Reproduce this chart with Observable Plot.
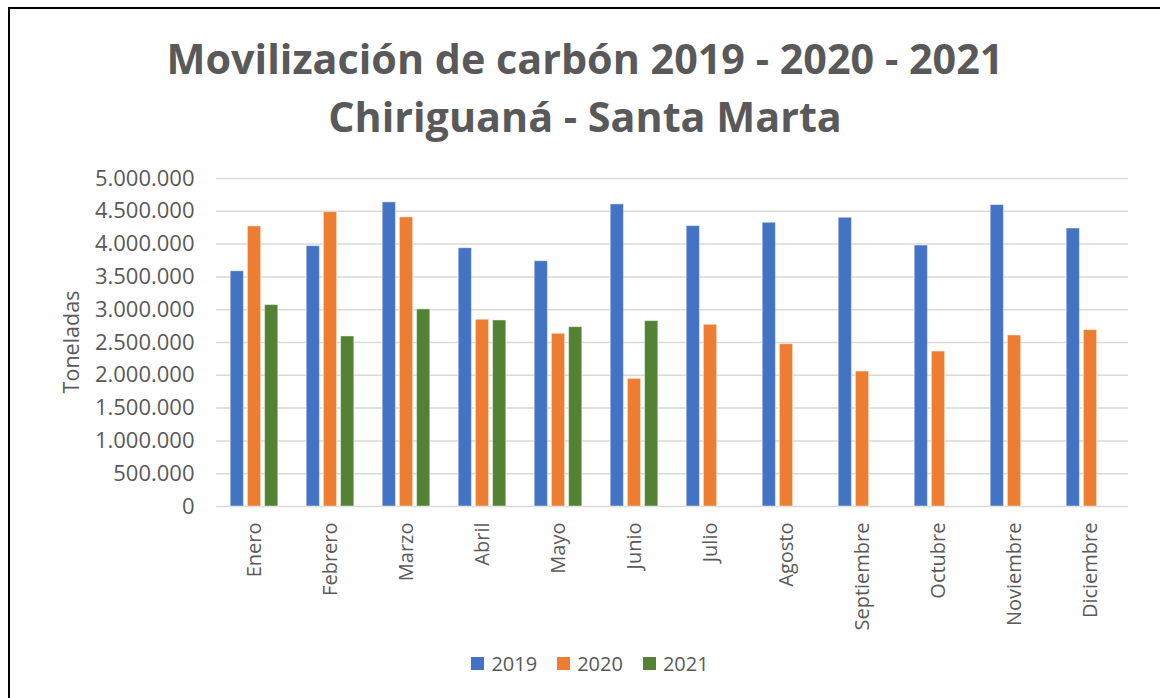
<!DOCTYPE html>
<html>
<head>
<meta charset="utf-8">
<script src="https://cdn.jsdelivr.net/npm/d3@7"></script>
<script src="https://cdn.jsdelivr.net/npm/@observablehq/plot@0.6"></script>
<style>
  html, body { margin:0; padding:0; background:#fff; overflow:hidden; width:1160px; height:698px; }
  #frame { position:absolute; left:8px; top:7px; width:1200px; height:800px; border:2px solid #000; box-sizing:border-box; }
  #title { position:absolute; left:0; top:29px; width:1170px; text-align:center; font-family:"Open Sans", sans-serif; font-weight:700; font-size:41.3px; line-height:58px; color:#595959; }
  #chart { position:absolute; left:0; top:0; }
  #ylabel { position:absolute; left:70px; top:342px; transform:translate(-50%,-50%) rotate(-90deg); font-family:"Open Sans", sans-serif; font-size:21.5px; color:#595959; white-space:nowrap; }
  #legend { position:absolute; left:0; top:649px; width:1180px; text-align:center; font-family:"Open Sans", sans-serif; font-size:20px; color:#595959; }
  #legend span.item { display:inline-flex; align-items:center; margin:0 10px; }
  #legend span.sw { display:inline-block; width:13px; height:13px; margin-right:7px; }
</style>
</head>
<body>
<div id="frame"></div>
<div id="title">Movilización de carbón 2019 - 2020 - 2021<br>Chiriguaná - Santa Marta</div>
<div id="chart"></div>
<div id="ylabel">Toneladas</div>
<div id="legend"></div>
<script>
const months = ["Enero","Febrero","Marzo","Abril","Mayo","Junio","Julio","Agosto","Septiembre","Octubre","Noviembre","Diciembre"];
const years = ["2019","2020","2021"];
const v2019 = [3586000, 3968000, 4636000, 3937000, 3739000, 4605000, 4274000, 4325000, 4401000, 3978000, 4595000, 4238000];
const v2020 = [4269000, 4488000, 4407000, 2847000, 2633000, 1945000, 2770000, 2474000, 2057000, 2362000, 2607000, 2689000];
const v2021 = [3071000, 2592000, 3005000, 2836000, 2734000, 2826000];
const yTicks = [0, 500000, 1000000, 1500000, 2000000, 2500000, 3000000, 3500000, 4000000, 4500000, 5000000];
const colors = ["#4472C4", "#ED7D31", "#548235"];

const series = [v2019, v2020, v2021];
const rows = [];
series.forEach((vals, i) => vals.forEach((v, j) => rows.push({month: months[j], year: years[i], value: v})));

const locale = d3.formatLocale({decimal: ",", thousands: ".", grouping: [3], currency: ["", ""]});
const fmt = locale.format(",d");

const chart = Plot.plot({
  width: 1160,
  height: 640,
  marginLeft: 212,
  marginRight: 28,
  marginTop: 178,
  marginBottom: 134,
  style: {fontFamily: "Open Sans, sans-serif", color: "#595959", background: "transparent"},
  fx: {domain: months, padding: 0, label: null},
  x: {domain: years, axis: null, paddingInner: 0.231, paddingOuter: 0.827, round: false},
  y: {domain: [0, 5000000], label: null},
  color: {domain: years, range: colors},
  marks: [
    Plot.gridY(yTicks, {stroke: "#d9d9d9", strokeOpacity: 1, strokeWidth: 1.5}),
    Plot.barY(rows, {fx: "month", x: "year", y: "value", fill: "year", stroke: "#ffffff", strokeOpacity: 0.45, strokeWidth: 1}),
    Plot.axisY(yTicks, {tickFormat: fmt, tickSize: 0, tickPadding: 22, fontSize: 22, label: null}),
    Plot.axisFx({anchor: "bottom", tickRotate: -90, tickSize: 0, tickPadding: 16, fontSize: 20, label: null})
  ]
});
document.getElementById("chart").appendChild(chart);

const legend = document.getElementById("legend");
years.forEach((y, i) => {
  const item = document.createElement("span");
  item.className = "item";
  const sw = document.createElement("span");
  sw.className = "sw";
  sw.style.background = colors[i];
  item.appendChild(sw);
  item.appendChild(document.createTextNode(y));
  legend.appendChild(item);
});
</script>
</body>
</html>
